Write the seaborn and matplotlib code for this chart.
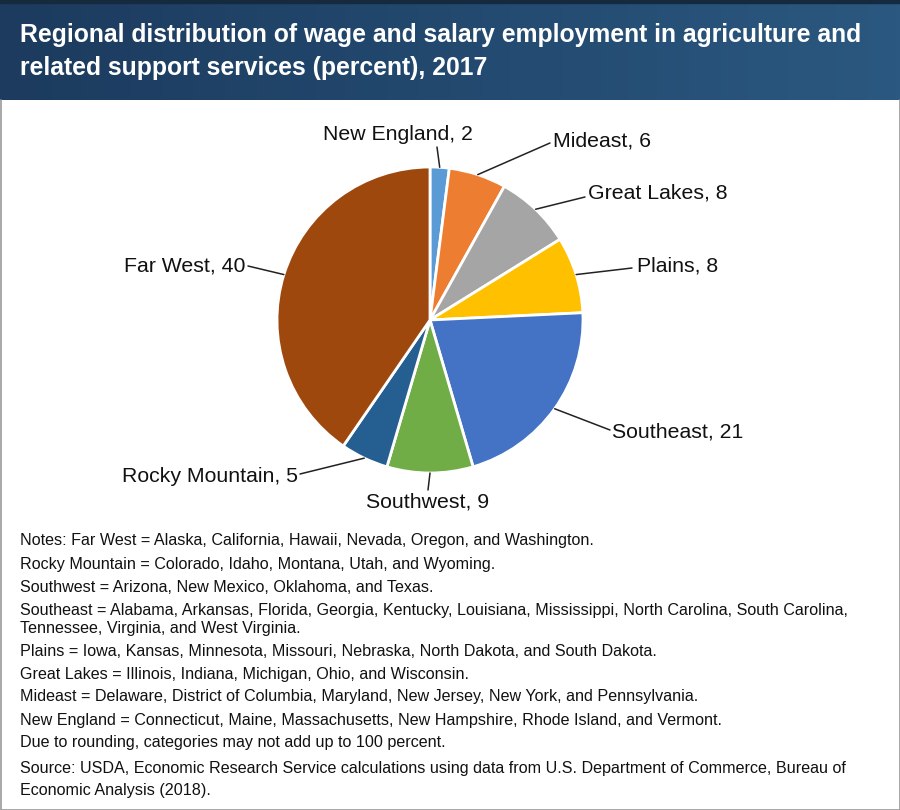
import numpy as np
import matplotlib
matplotlib.use("Agg")
import matplotlib.pyplot as plt
import seaborn as sns
from matplotlib.colors import LinearSegmentedColormap

sns.set_theme(style="white")
plt.rcParams['font.family'] = ['Liberation Sans', 'DejaVu Sans']

# data, clockwise from 12 o'clock
regions = ["New England", "Mideast", "Great Lakes", "Plains",
           "Southeast", "Southwest", "Rocky Mountain", "Far West"]
shares = [2, 6, 8, 8, 21, 9, 5, 40]
colors = ["#5B9BD5", "#ED7D31", "#A5A5A5", "#FFC000",
          "#4472C4", "#70AD47", "#255E91", "#9E480E"]

title_lines = ["Regional distribution of wage and salary employment in agriculture and",
               "related support services (percent), 2017"]
notes = [
    "Notes: Far West = Alaska, California, Hawaii, Nevada, Oregon, and Washington.",
    "Rocky Mountain = Colorado, Idaho, Montana, Utah, and Wyoming.",
    "Southwest = Arizona, New Mexico, Oklahoma, and Texas.",
    "Southeast = Alabama, Arkansas, Florida, Georgia, Kentucky, Louisiana, Mississippi, North Carolina, South Carolina,",
    "Tennessee, Virginia, and West Virginia.",
    "Plains = Iowa, Kansas, Minnesota, Missouri, Nebraska, North Dakota, and South Dakota.",
    "Great Lakes = Illinois, Indiana, Michigan, Ohio, and Wisconsin.",
    "Mideast = Delaware, District of Columbia, Maryland, New Jersey, New York, and Pennsylvania.",
    "New England = Connecticut, Maine, Massachusetts, New Hampshire, Rhode Island, and Vermont.",
    "Due to rounding, categories may not add up to 100 percent.",
    "Source: USDA, Economic Research Service calculations using data from U.S. Department of Commerce, Bureau of",
    "Economic Analysis (2018).",
]

# label layout in pixel coords (x, y from top)
text_pos = [(398, 135, "center"), (553, 141, "left"), (588, 193, "left"), (637, 266, "left"),
            (612, 432, "left"), (428, 502, "center"), (298, 476, "right"), (245, 266, "right")]
line_end = [(437, 147), (550, 143), (585, 197), (632, 268),
            (610, 430), (428, 490), (300, 474), (248, 266)]
note_y = [540, 564, 587, 611, 629, 651, 674, 697, 720, 743, 768, 791]
title_y = [35, 68]

W, H = 900, 810
fig = plt.figure(figsize=(9, 8.1), dpi=100)
ax = fig.add_axes([0, 0, 1, 1])
ax.set_xlim(0, W)
ax.set_ylim(0, H)
ax.axis("off")

# header band
cmap = LinearSegmentedColormap.from_list("hdr", ["#1c3b5e", "#23496f", "#2b5880"])
grad = np.linspace(0, 1, 256).reshape(1, -1)
ax.imshow(grad, cmap=cmap, extent=[0, W, H - 100, H], aspect="auto", zorder=0)
ax.fill_between([0, W], H - 3, H, color="#15293f", zorder=1)
for y, line in zip(title_y, title_lines):
    ax.text(20, H - y, line, color="white", fontsize=17.8, fontweight="bold",
            va="center", ha="left", zorder=2)

# frame
ax.plot([0.5, 0.5, W - 0.5, W - 0.5], [H - 100, 0.5, 0.5, H - 100], color="#9a9a9a", lw=1.2, zorder=2)

cx, cy, r = 430, H - 320, 153
wedges, _ = ax.pie(shares, colors=colors, startangle=90, counterclock=False,
                   center=(cx, cy), radius=r, frame=True,
                   wedgeprops=dict(edgecolor="white", linewidth=2))
ax.set_xlim(0, W)
ax.set_ylim(0, H)
ax.axis("off")

for w, name, val, (tx, ty, ha), (lx, ly) in zip(wedges, regions, shares, text_pos, line_end):
    mid = np.deg2rad((w.theta1 + w.theta2) / 2)
    px, py = cx + r * np.cos(mid), cy + r * np.sin(mid)
    ax.plot([px, lx], [py, H - ly], color="#222222", lw=1.1, zorder=3)
    ax.text(tx, H - ty, f"{name}, {val}", fontsize=15.3, ha=ha, va="center", color="#111111")

for y, line in zip(note_y, notes):
    ax.text(20, H - y, line, fontsize=11.6, ha="left", va="center", color="#111111")

fig.savefig("out.png", dpi=100)
